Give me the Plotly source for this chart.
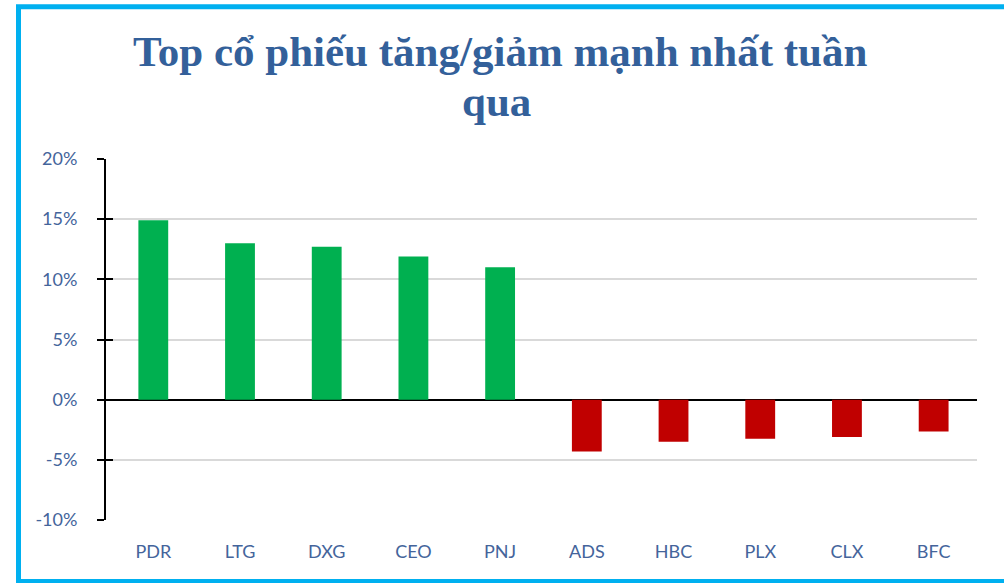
import plotly.graph_objects as go

categories = ["PDR", "LTG", "DXG", "CEO", "PNJ", "ADS", "HBC", "PLX", "CLX", "BFC"]
values = [14.9, 13.0, 12.7, 11.9, 11.0, -4.3, -3.5, -3.25, -3.1, -2.65]
tick_vals = [-10, -5, 0, 5, 10, 15, 20]
tick_text = [f"{v}%" for v in tick_vals]
title_line1 = "Top cổ phiếu tăng/giảm mạnh nhất tuần"
title_line2 = "qua"

GREEN = "#00B050"
RED = "#C00000"
LABEL = "#44649B"
TITLE = "#33609A"
BORDER = "#00B0F0"

W, H = 1004, 583
L, R, T, B = 106, 27, 159, 63
PW, PH = W - L - R, H - T - B

def px_x(px):
    return (px - L) / PW

def px_y(py):
    return (H - B - py) / PH

colors = [GREEN if v >= 0 else RED for v in values]

fig = go.Figure()
fig.add_trace(go.Bar(x=categories, y=values, marker=dict(color=colors, line=dict(width=0)),
                     showlegend=False, hoverinfo="x+y"))
# invisible trace to drive the second y-axis (inside ticks -> crossed ticks)
fig.add_trace(go.Scatter(x=categories[:1], y=[0], yaxis="y2", mode="markers",
                         marker=dict(opacity=0), showlegend=False, hoverinfo="skip"))

tickfont = dict(family="Lato, Carlito, Calibri, sans-serif", size=18, color=LABEL)

fig.update_layout(
    width=W, height=H,
    margin=dict(l=L, r=R, t=T, b=B, autoexpand=False),
    paper_bgcolor="white", plot_bgcolor="white",
    bargap=0.656,
    xaxis=dict(showline=False, showgrid=False, ticks="", tickfont=tickfont,
               ticklabelstandoff=19, fixedrange=True),
    yaxis=dict(range=[-10, 20], tickvals=tick_vals, ticktext=tick_text,
               showgrid=True, gridcolor="#D9D9D9", gridwidth=1.5,
               zeroline=True, zerolinecolor="black", zerolinewidth=2,
               showline=True, linecolor="black", linewidth=2,
               ticks="outside", ticklen=7, tickwidth=2, tickcolor="black",
               tickfont=tickfont, ticklabelstandoff=16, fixedrange=True),
    yaxis2=dict(range=[-10, 20], tickvals=tick_vals, overlaying="y", side="left",
                showgrid=False, zeroline=False, showline=False, showticklabels=False,
                ticks="inside", ticklen=7, tickwidth=2, tickcolor="black", fixedrange=True),
    annotations=[
        dict(text=title_line1, x=px_x(500), y=px_y(52), xref="paper", yref="paper",
             xanchor="center", yanchor="middle", showarrow=False,
             font=dict(family="Liberation Serif, Times New Roman, serif", size=43,
                       color=TITLE, weight="bold")),
        dict(text=title_line2, x=px_x(496), y=px_y(101), xref="paper", yref="paper",
             xanchor="center", yanchor="middle", showarrow=False,
             font=dict(family="Liberation Serif, Times New Roman, serif", size=43,
                       color=TITLE, weight="bold")),
    ],
    shapes=[
        dict(type="rect", xref="paper", yref="paper",
             x0=px_x(18.5), x1=px_x(1012), y0=px_y(581.5), y1=px_y(6.7),
             line=dict(color=BORDER, width=5), fillcolor="rgba(0,0,0,0)", layer="above"),
    ],
)

fig.write_html("out.html", config={"displayModeBar": False})
